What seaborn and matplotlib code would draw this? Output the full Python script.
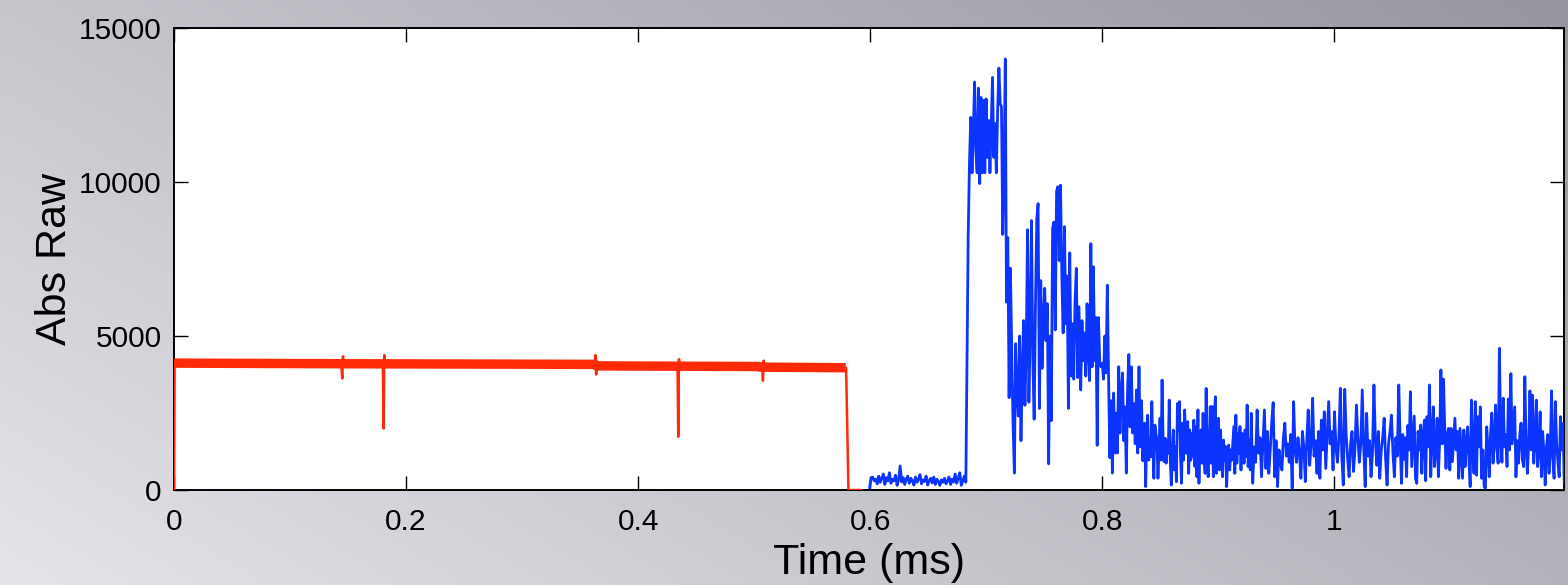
import numpy as np
import pandas as pd
import matplotlib
matplotlib.use("Agg")
import matplotlib.pyplot as plt
import seaborn as sns

# ---------------------------------------------------------------- data
# Red trace: plateau level (band centre) before the cut-off
band_t = [0.0, 0.1450, 0.3630, 0.3640, 0.5040, 0.5050, 0.5790]
band_v = [4120, 4100, 4080, 4030, 4010, 3990, 3970]

# Red trace: detail line with the short glitches and the drop to zero
red_t = [0.0000, 0.0005, 0.1440, 0.1450, 0.1456, 0.1462, 0.1800, 0.1806, 0.1812,
         0.1818, 0.3625, 0.3632, 0.3638, 0.3645, 0.4340, 0.4346, 0.4352, 0.4358,
         0.5070, 0.5076, 0.5082, 0.5090, 0.5793, 0.5813, 0.5920]
red_v = [0, 4120, 4100, 3620, 4340, 4100, 4090, 2000, 4380, 4090, 4080, 4380,
         3750, 4030, 4030, 1730, 4250, 4030, 4000, 3550, 4200, 3990, 3970, 0, 0]

# Blue trace, split into stretches (start ms, end ms, samples)
seg_a_span = (0.5995, 0.6825)
seg_a = [60, 380, 420, 300, 350, 200, 450, 250, 380, 520, 180, 400, 300, 560, 220,
         350, 300, 480, 150, 330, 780, 260, 400, 180, 350, 450, 220, 380, 300, 160,
         420, 250, 350, 500, 200, 330, 280, 450, 160, 300, 380, 230, 420, 180, 350,
         280, 150, 330, 250, 380, 200, 300, 420, 180, 350, 260, 520, 220, 380, 560,
         150, 300, 450, 250]

seg_b_span = (0.6845, 0.7165)
seg_b = [8200, 10600, 12100, 10300, 11600, 13250, 11000, 10300, 13050, 9950,
         12750, 10300, 12650, 10300, 12700, 10800, 12000, 10300, 11800, 13400,
         10800, 11900, 10300, 12300, 13700, 12550, 12450, 8300, 10300, 14000]

seg_c_span = (0.7175, 0.7800)
seg_c = [6100, 8200, 3000, 7200, 4500, 2150, 550, 4750, 3200, 2400, 5000, 1600,
         3800, 5500, 2750, 4600, 8450, 2850, 5200, 8750, 4200, 2300, 6000, 8800,
         9300, 2650, 6800, 3950, 5600, 6550, 4850, 6050, 850, 5000, 2250, 8500,
         8700, 5200, 9700, 9850, 7450, 9900, 6900, 5100, 8550, 5400, 6950, 2650,
         7700, 3700, 5400, 3600, 6100, 7200, 3650, 5950]

seg_d_span = (0.7815, 0.8350)
seg_d = [3250, 5500, 4200, 5100, 3700, 6050, 4650, 3550, 8000, 4000, 7250, 4200,
         5600, 1450, 5600, 4200, 4000, 4100, 3600, 5000, 3800, 6650, 3600, 1050,
         2900, 550, 3150, 1200, 2500, 1200, 4000, 1850, 3150, 3800, 1600, 2700,
         550, 3250, 4400, 2050, 4000, 1850, 2800, 1500, 3250, 1200, 4000, 1400,
         2900, 950]

seg_e1_span = (0.8366, 0.9276)
seg_e1 = [2170, 110, 1840, 2430, 970, 1620, 1080, 2870, 1410, 380, 2110, 1840,
          1620, 380, 1300, 2330, 970, 3570, 1620, 920, 1680, 870, 1520, 1190, 2920,
          970, 160, 1080, 1950, 650, 1410, 270, 2810, 1950, 2870, 1080, 220, 2170,
          970, 2600, 1730, 1190, 2220, 540, 1950, 970, 1840, 1080, 2270, 760, 2060,
          430, 2600, 220, 1730, 1950, 870, 2490, 1080, 540, 3300, 970, 430, 1620,
          2710, 870, 2710, 430, 2170, 3030, 540, 1620, 2330, 650, 1950, 1080, 430,
          1620, 970, 1410, 110, 1080, 1460, 650, 1300, 970, 1520, 2060, 540, 2430,
          870, 1840, 1190, 2060, 650, 1840, 1520, 870, 1950, 1080, 2760, 760, 1620,
          650]

seg_e2_span = (0.9285, 1.0569)
seg_e2 = [2490, 220, 1400, 900, 2600, 1200, 1700, 430, 1500, 2600, 700, 1900, 540,
          1300, 2200, 2840, 430, 1600, 110, 1300, 900, 650, 1700, 2170, 1100, 1500,
          900, 1800, 50, 2870, 1300, 900, 1700, 1200, 380, 1900, 1400, 270, 1600,
          2600, 800, 1500, 2980, 1100, 1600, 540, 1900, 380, 2270, 1300, 2540, 700,
          1800, 2870, 1500, 1900, 650, 2540, 1400, 900, 1700, 3300, 1100, 160, 3270,
          1800, 1000, 430, 1500, 1900, 600, 1300, 2760, 1700, 900, 1500, 3250, 1400,
          110, 2490, 1100, 1600, 430, 1200, 3410, 1600, 800, 1900, 380, 1300, 1700,
          2330, 1000, 160, 1500, 1900, 2430, 1200, 430, 1700, 1100, 3410, 1500]

seg_e3_span = (1.0580, 1.1983)
seg_e3 = [216, 1800, 1000, 1700, 430, 2100, 1300, 3190, 760, 1600, 2400, 380, 216,
          1900, 1300, 2110, 540, 1800, 2270, 300, 2380, 1400, 3410, 430, 1700, 2700,
          760, 1300, 2330, 430, 1600, 3900, 1500, 3600, 2000, 700, 1800, 2000, 650,
          2000, 920, 1600, 2330, 1300, 1900, 380, 2000, 1200, 380, 1950, 760, 1500,
          2050, 1000, 110, 2920, 1300, 540, 2870, 480, 2380, 1400, 2700, 380, 1300,
          110, 54, 2050, 1400, 430, 1800, 2500, 870, 1600, 2760, 1300, 870, 4600,
          1700, 900, 2980, 1400, 1800, 760, 2960, 1300, 3780, 1500, 2100, 2700, 430,
          1600, 870, 1800, 2170, 1000, 760, 3680, 1400, 540, 1500, 3220, 1300, 3080,
          870, 1600, 2920, 760, 1300, 2540, 430, 1900, 1200, 162, 1400, 1800, 540,
          1300, 3220, 1000, 380, 2870, 1500, 900, 430, 2380, 1300, 2160, 216]

x_ticks = [0, 0.2, 0.4, 0.6, 0.8, 1.0]
x_tick_labels = ["0", "0.2", "0.4", "0.6", "0.8", "1"]
y_ticks = [0, 5000, 10000, 15000]
y_tick_labels = ["0", "5000", "10000", "15000"]
x_label = "Time (ms)"
y_label = "Abs Raw"

# ---------------------------------------------------------------- frames
segments = [(seg_a_span, seg_a), (seg_b_span, seg_b), (seg_c_span, seg_c),
            (seg_d_span, seg_d), (seg_e1_span, seg_e1), (seg_e2_span, seg_e2),
            (seg_e3_span, seg_e3)]
blue_t = np.concatenate([np.linspace(s[0], s[1], len(v)) for s, v in segments])
blue_v = np.concatenate([np.asarray(v, dtype=float) for _, v in segments])
blue_df = pd.DataFrame({"t": blue_t, "v": blue_v})
band_df = pd.DataFrame({"t": band_t, "v": band_v})
red_df = pd.DataFrame({"t": red_t, "v": red_v})

# ---------------------------------------------------------------- style
sns.set_style("ticks")
plt.rcParams["font.family"] = ["Liberation Sans", "DejaVu Sans"]

RED = "#ff2a08"
BLUE = "#0c34ff"

fig = plt.figure(figsize=(15.68, 5.85), dpi=100)

# grey gradient backdrop, light at lower left, darker toward upper right
bg = fig.add_axes([0, 0, 1, 1], zorder=-10)
gx, gy = np.meshgrid(np.linspace(0, 1, 256), np.linspace(1, 0, 128))
shade = 0.62 * gx + 0.38 * gy
light = np.array([228, 228, 233]) / 255
dark = np.array([150, 150, 160]) / 255
img = light[None, None, :] + (dark - light)[None, None, :] * shade[..., None]
bg.imshow(img, aspect="auto", extent=[0, 1, 0, 1], interpolation="bilinear")
bg.set_axis_off()

ax = fig.add_axes([0.111, 0.1624, 0.8864, 0.7896])
ax.set_facecolor("white")

sns.lineplot(data=blue_df, x="t", y="v", ax=ax, color=BLUE, lw=2.0,
             estimator=None, sort=False, zorder=3)
sns.lineplot(data=band_df, x="t", y="v", ax=ax, color=RED, lw=6.8,
             estimator=None, sort=False, zorder=4, solid_capstyle="butt")
sns.lineplot(data=red_df, x="t", y="v", ax=ax, color=RED, lw=1.8,
             estimator=None, sort=False, zorder=5)

ax.set_xlim(0, 1.198)
ax.set_ylim(0, 15000)
ax.set_xticks(x_ticks)
ax.set_xticklabels(x_tick_labels)
ax.set_yticks(y_ticks)
ax.set_yticklabels(y_tick_labels)
ax.tick_params(axis="both", which="both", direction="in", length=10, width=1.0,
               top=True, right=True, labelsize=21.5, colors="black")
ax.tick_params(axis="x", pad=13)
ax.tick_params(axis="y", pad=9)
for sp in ax.spines.values():
    sp.set_visible(True)
    sp.set_linewidth(1.4)
    sp.set_color("black")

ax.set_xlabel(x_label, fontsize=31, labelpad=5, color="black")
ax.set_ylabel(y_label, fontsize=31, labelpad=3, color="black")

fig.savefig("out.png", dpi=100)
